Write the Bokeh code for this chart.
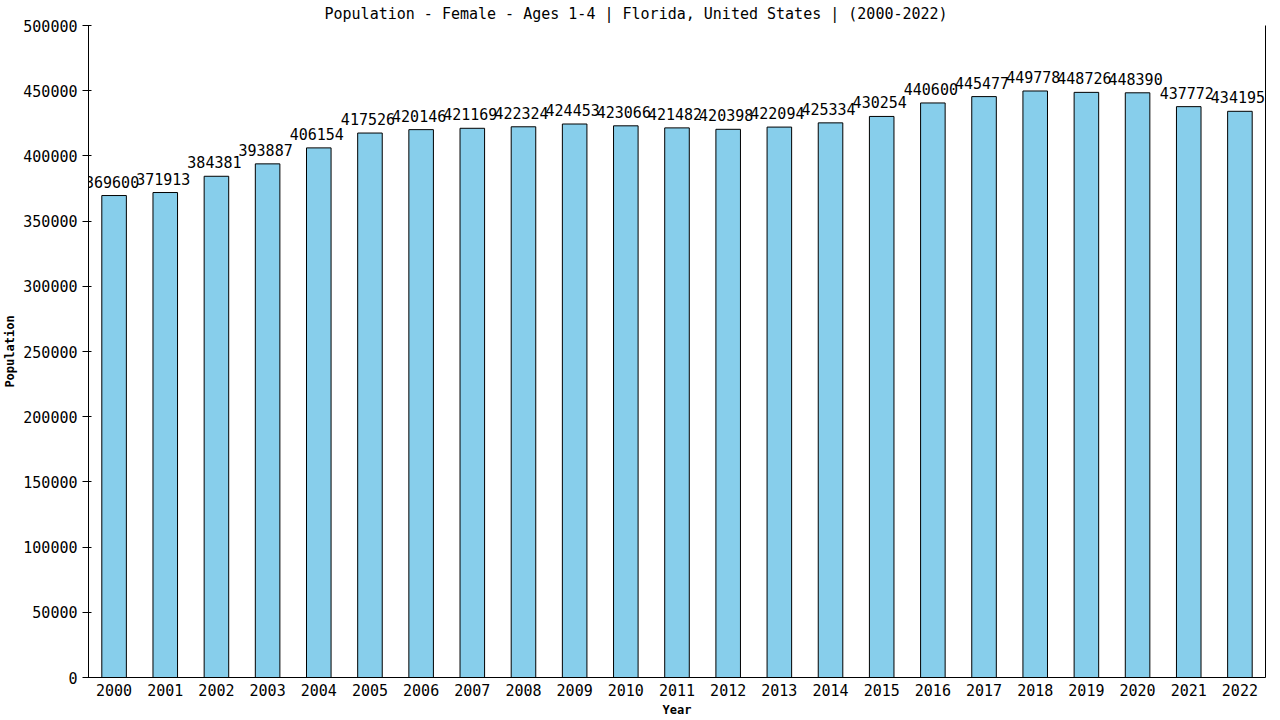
from bokeh.plotting import figure
from bokeh.models import FactorRange, Range1d, FixedTicker, BasicTickFormatter, LinearAxis, ColumnDataSource, Title
from bokeh.embed import file_html
from bokeh.resources import INLINE

years = [str(y) for y in range(2000, 2023)]
population = [369600, 371913, 384381, 393887, 406154, 417526, 420146, 421169, 422324,
              424453, 423066, 421482, 420398, 422094, 425334, 430254, 440600, 445477,
              449778, 448726, 448390, 437772, 434195]
y_ticks = list(range(0, 500001, 50000))
title_text = "Population - Female - Ages 1-4 | Florida, United States |  (2000-2022)"

FONT = "DejaVu Sans Mono"

src = ColumnDataSource(dict(year=years, pop=population, lab=[str(v) for v in population]))

p = figure(frame_width=1177, frame_height=652, x_range=FactorRange(*years, range_padding=0),
           y_range=Range1d(0, 500000), output_backend="svg", toolbar_location=None,
           min_border_left=80, min_border_right=7, min_border_top=17, min_border_bottom=30)

p.title.text = ""
p.add_layout(Title(text=title_text, align="left", offset=236, text_font=FONT,
                   text_font_size="15px", text_font_style="normal", text_color="black",
                   standoff=5), "above")

p.vbar(x="year", top="pop", width=0.48, source=src, fill_color="#87CEEB",
       line_color="black", line_width=1)
p.text(x="year", y="pop", text="lab", source=src, text_align="center",
       text_baseline="alphabetic", y_offset=-14, x_offset=-2, text_font_size="15px",
       text_font={"value": FONT}, text_color="black")

p.grid.visible = False
p.outline_line_color = None
p.background_fill_color = "white"

ya = p.yaxis[0]
ya.ticker = FixedTicker(ticks=y_ticks)
ya.formatter = BasicTickFormatter(use_scientific=False)
ya.minor_tick_line_color = None
ya.major_tick_out = 6
ya.major_tick_in = 3
ya.major_label_standoff = 5
ya.major_label_text_font = FONT
ya.major_label_text_font_size = "15px"
ya.major_label_text_color = "black"
ya.axis_line_color = "black"
ya.major_tick_line_color = "black"
ya.axis_label = "Population"
ya.axis_label_text_font = FONT
ya.axis_label_text_font_size = "12px"
ya.axis_label_text_font_style = "bold"
ya.axis_label_text_color = "black"
ya.axis_label_standoff = 3

xa = p.xaxis[0]
xa.major_tick_line_color = None
xa.major_tick_out = 0
xa.major_tick_in = 0
xa.major_label_standoff = 6
xa.major_label_text_font = FONT
xa.major_label_text_font_size = "15px"
xa.major_label_text_color = "black"
xa.axis_line_color = "black"
xa.axis_label = "Year"
xa.axis_label_text_font = FONT
xa.axis_label_text_font_size = "12px"
xa.axis_label_text_font_style = "bold"
xa.axis_label_text_color = "black"
xa.axis_label_standoff = 4

ra = LinearAxis(ticker=FixedTicker(ticks=[]), major_tick_line_color=None,
                minor_tick_line_color=None, major_label_text_font_size="0px",
                axis_line_color="black")
p.add_layout(ra, "right")

open("out.html", "w").write(file_html(p, INLINE))
